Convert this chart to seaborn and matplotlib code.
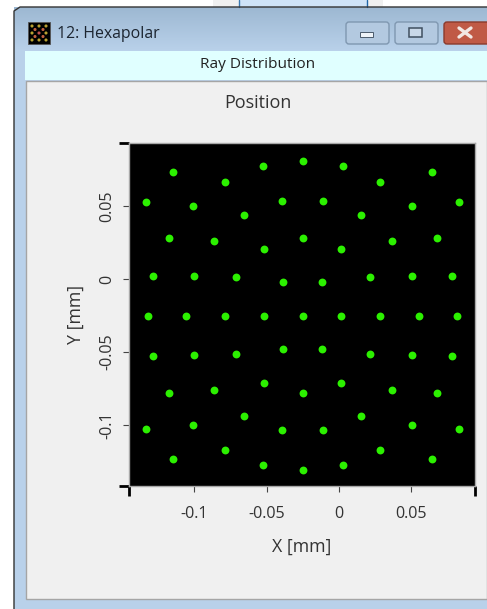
import numpy as np
import matplotlib
matplotlib.use('Agg')
import matplotlib.pyplot as plt
import seaborn as sns
from matplotlib.patches import Rectangle, FancyBboxPatch

# ray positions in mm, row by row from the top
x_pos = [-0.1142, -0.0783, -0.0526, -0.025, 0.0026, 0.0283, 0.0642,
         -0.1331, -0.1004, -0.0652, -0.039, -0.0112, 0.015, 0.0502, 0.0828,
         -0.1174, -0.0864, -0.0519, -0.025, 0.0017, 0.0364, 0.0674,
         -0.1282, -0.1002, -0.0712, -0.0386, -0.0117, 0.0212, 0.0502, 0.078,
         -0.1319, -0.1052, -0.0783, -0.0519, -0.025, 0.0017, 0.0283, 0.055, 0.0817,
         -0.1282, -0.1002, -0.0712, -0.0386, -0.0117, 0.0212, 0.0502, 0.078,
         -0.1174, -0.0864, -0.0519, -0.025, 0.0017, 0.0364, 0.0674,
         -0.1331, -0.1004, -0.0652, -0.039, -0.0112, 0.015, 0.0502, 0.0828,
         -0.1142, -0.0783, -0.0526, -0.025, 0.0026, 0.0283, 0.0642]
y_pos = [0.0734, 0.0668, 0.0773, 0.0809, 0.0773, 0.0668, 0.0734,
         0.0529, 0.0499, 0.0437, 0.0533, 0.0533, 0.0437, 0.0499, 0.0529,
         0.028, 0.0259, 0.0209, 0.028, 0.0209, 0.0259, 0.028,
         0.0024, 0.0022, 0.0015, -0.0022, -0.0022, 0.0015, 0.0022, 0.0024,
         -0.025, -0.025, -0.025, -0.025, -0.025, -0.025, -0.025, -0.025, -0.025,
         -0.0524, -0.0522, -0.0515, -0.0478, -0.0478, -0.0515, -0.0522, -0.0524,
         -0.078, -0.0759, -0.0709, -0.078, -0.0709, -0.0759, -0.078,
         -0.1029, -0.0999, -0.0937, -0.1033, -0.1033, -0.0937, -0.0999, -0.1029,
         -0.1234, -0.1168, -0.1273, -0.1309, -0.1273, -0.1168, -0.1234]
x_ticks = [-0.1, -0.05, 0, 0.05]
x_labels = ['-0.1', '-0.05', '0', '0.05']
y_ticks = [-0.1, -0.05, 0, 0.05]
y_labels = ['-0.1', '-0.05', '0', '0.05']
x_limits = (-0.1452, 0.0938)
y_limits = (-0.1416, 0.0932)

W, H = 487, 609
sns.set_style('white')
plt.rcParams['font.family'] = ['Open Sans', 'DejaVu Sans']
text_col = '#333333'
fs = 11.6

fig = plt.figure(figsize=(W / 100, H / 100), dpi=100, facecolor='white')

# window chrome, in pixel coordinates
bg = fig.add_axes([0, 0, 1, 1])
bg.set_xlim(0, W)
bg.set_ylim(H, 0)
bg.axis('off')
bg.add_patch(Rectangle((213, 0), 170, 7, fc='#f0f0f0', ec='none'))
bg.add_patch(Rectangle((239, 0), 128, 7, fc='#cfe3f7', ec='none'))
bg.plot([239, 239], [0, 7], color='#3a78b0', lw=1)
bg.plot([367, 367], [0, 7], color='#1f66a8', lw=1)
bg.add_patch(Rectangle((14, 7), W - 14, H - 7, fc='#b9d1ea', ec='none'))
grad = np.linspace(0, 1, 44).reshape(-1, 1)
bg.imshow(grad, extent=(14, W, 51, 7), cmap=matplotlib.colors.LinearSegmentedColormap.from_list(
    'title', ['#9db8d2', '#b9d1ea']), aspect='auto', zorder=1)
bg.set_xlim(0, W)
bg.set_ylim(H, 0)
bg.plot([14, 14, 20, W], [H, 11, 7, 7], color='#333333', lw=1, zorder=3)
bg.add_patch(Rectangle((25, 51), W - 25, 29, fc='#e0ffff', ec='none', zorder=2))
bg.add_patch(Rectangle((26, 81), W - 26, 518, fc='#f0f0f0', ec='#a5a5a5', lw=1, zorder=2))

# icon
bg.add_patch(Rectangle((28, 22), 22, 22, fc='black', ec='#555555', lw=0.6, zorder=3))
icon_x = [32, 39, 46, 35, 43, 32, 39, 46, 35, 43, 32, 39, 46]
icon_y = [26, 26, 26, 29.5, 29.5, 33, 33, 33, 36.5, 36.5, 40, 40, 40]
icon_c = ['#b8a030', '#b8a030', '#b8a030', '#c06040', '#c06040', '#b8a030', '#c05050',
          '#b8a030', '#c06040', '#c06040', '#b8a030', '#b8a030', '#b8a030']
bg.scatter(icon_x, icon_y, s=5, c=icon_c, linewidths=0, zorder=4)

# window buttons
for bx, bw, col, edge in [(346, 43, '#b3c9e0', '#7f97b0'), (395, 43, '#b3c9e0', '#7f97b0'),
                          (444, 50, '#c05a46', '#8a3a2c')]:
    bg.add_patch(FancyBboxPatch((bx, 22), bw, 22, boxstyle='round,pad=0,rounding_size=3',
                                fc=col, ec=edge, lw=1, zorder=3))
bg.add_patch(Rectangle((360, 32), 13, 5, fc='#eef3f8', ec='#4a5a6c', lw=0.7, zorder=4))
bg.add_patch(Rectangle((409, 28), 13, 9, fc='#c9d8e8', ec='#3f4f60', lw=1.1, zorder=4))
bg.plot([459, 471], [28, 37], color='#f2e8e4', lw=2.4, zorder=4)
bg.plot([471, 459], [28, 37], color='#f2e8e4', lw=2.4, zorder=4)

bg.text(57, 34, '12: Hexapolar', fontsize=11.4, color='#1c2530', va='center', zorder=5)
bg.text(258, 65, 'Ray Distribution', fontsize=11.1, color='#222222', ha='center', va='center', zorder=5)
bg.text(258, 103, 'Position', fontsize=13, color=text_col, ha='center', va='center', zorder=5)

# the plot itself
ax = fig.add_axes([128.5 / W, 1 - 485.7 / H, (475 - 128.5) / W, (485.7 - 143) / H])
ax.set_facecolor('black')
sns.scatterplot(x=x_pos, y=y_pos, color='#2cf000', s=32, linewidth=0, ax=ax)
ax.set_xlim(x_limits)
ax.set_ylim(y_limits)
ax.set_xticks(x_ticks, labels=x_labels, fontsize=fs, color=text_col)
ax.set_yticks(y_ticks, labels=y_labels, fontsize=fs, color=text_col, rotation=90, va='center')
ax.set_xticks(x_limits, minor=True)
ax.set_yticks(y_limits, minor=True)
ax.tick_params(which='major', length=4.2, width=0.8, color='#444444', bottom=True, left=True, pad=10.5)
ax.tick_params(which='minor', length=7, width=2, color='black', bottom=True, left=True)
ax.tick_params(axis='y', which='major', pad=5)
ax.set_xlabel('X [mm]', fontsize=12.8, color=text_col, labelpad=11)
ax.set_ylabel('Y [mm]', fontsize=12.8, color=text_col, labelpad=11)
for side in ax.spines.values():
    side.set_color('#a8a8a8')
    side.set_linewidth(1)

fig.savefig('out.png', dpi=100)
